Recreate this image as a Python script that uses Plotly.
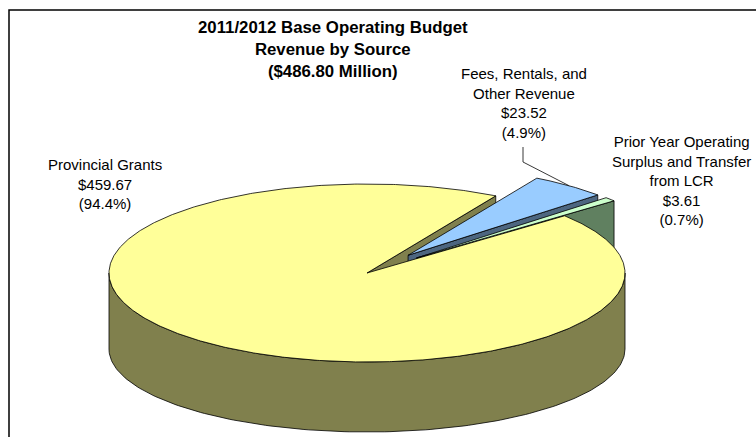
import numpy as np
import plotly.graph_objects as go

# Revenue by source, $ millions
sources = [
    "Provincial Grants",
    "Fees, Rentals, and<br>Other Revenue",
    "Prior Year Operating<br>Surplus and Transfer<br>from LCR",
]
amounts = [459.67, 23.52, 3.61]
share_labels = ["94.4%", "4.9%", "0.7%"]
pulled = [0.0, 0.255, 0.255]          # explode distance, fraction of radius

top_colors = ["#FFFF99", "#99CCFF", "#CCFFCC"]
side_colors = ["#80804D", "#4D6680", "#608060"]

W, H = 756, 437
CX, CY = 367, 273          # centre of the top face (px)
RX, RY = 258, 89           # radii of the top face
BOT_CY, BOT_RY = 349, 83   # centre / vertical radius of the bottom rim
FIRST_ANGLE = 50           # first slice starts this many degrees clockwise from 12 o'clock
EDGE = dict(color="black", width=0.8)


def top_xy(u, v):
    return CX + RX * np.asarray(u), CY - RY * np.asarray(v)


def bot_xy(u, v):
    return CX + RX * np.asarray(u), BOT_CY - BOT_RY * np.asarray(v)


total = sum(amounts)
slices = []
ang = 90 - FIRST_ANGLE
for i, amt in enumerate(amounts):
    sweep = 360 * amt / total
    a1, a0 = ang, ang - sweep          # slices run clockwise
    ang = a0
    mid = np.radians((a0 + a1) / 2)
    slices.append(dict(a0=a0, a1=a1, mid=mid,
                       ox=pulled[i] * np.cos(mid), oy=pulled[i] * np.sin(mid)))


def front_spans(a0, a1):
    spans = []
    for k in range(-2, 3):
        lo, hi = max(a0, -180 + 360 * k), min(a1, 360 * k)
        if hi > lo:
            spans.append((lo, hi))
    return spans


def poly(x, y, color):
    x = list(x) + [x[0]]
    y = list(y) + [y[0]]
    return go.Scatter(x=x, y=y, mode="lines", fill="toself", fillcolor=color,
                      line=EDGE, hoverinfo="skip", showlegend=False)


fig = go.Figure()

# outer curved walls facing the viewer
for i, s in enumerate(slices):
    for lo, hi in front_spans(s["a0"], s["a1"]):
        t = np.radians(np.linspace(lo, hi, 160))
        u, v = s["ox"] + np.cos(t), s["oy"] + np.sin(t)
        xt, yt = top_xy(u, v)
        xb, yb = bot_xy(u, v)
        fig.add_trace(poly(np.r_[xt, xb[::-1]], np.r_[yt, yb[::-1]], side_colors[i]))


def face(s, a_deg, color):
    a = np.radians(a_deg)
    u = [s["ox"], s["ox"] + np.cos(a)]
    v = [s["oy"], s["oy"] + np.sin(a)]
    xt, yt = top_xy(u, v)
    xb, yb = bot_xy(u, v)
    return poly([xt[0], xt[1], xb[1], xb[0]], [yt[0], yt[1], yb[1], yb[0]], color)


# radial cut faces: fixed slices first, pulled-out slices after
order = sorted(range(len(slices)), key=lambda k: (pulled[k] > 0, k))
for i in order:
    s = slices[i]
    if np.cos(np.radians(s["a0"])) > 0:
        fig.add_trace(face(s, s["a0"], side_colors[i]))
    if np.cos(np.radians(s["a1"])) < 0:
        fig.add_trace(face(s, s["a1"], side_colors[i]))

# top faces
for i in order:
    s = slices[i]
    t = np.radians(np.linspace(s["a0"], s["a1"], max(8, int(s["a1"] - s["a0"]) * 2)))
    u = np.r_[s["ox"], s["ox"] + np.cos(t)]
    v = np.r_[s["oy"], s["oy"] + np.sin(t)]
    x, y = top_xy(u, v)
    fig.add_trace(poly(x, y, top_colors[i]))

# leader line for the fees label
fs = slices[1]
lx, ly = top_xy(fs["ox"] + np.cos(fs["mid"]), fs["oy"] + np.sin(fs["mid"]))
fig.add_trace(go.Scatter(x=[523, 523, float(lx)], y=[147, 162, float(ly)], mode="lines",
                         line=dict(color="#222222", width=0.9),
                         hoverinfo="skip", showlegend=False))

label_pos = [(105, 184), (524, 103), (681, 180)]
FONT = "Arial, Liberation Sans, sans-serif"
annotations = [
    dict(x=333, y=49, xref="x", yref="y", showarrow=False,
         text="<b>2011/2012 Base Operating Budget<br>Revenue by Source<br>"
              f"(${total:.2f} Million)</b>",
         font=dict(family=FONT, size=16.8, color="black"), align="center")
]
for name, amt, pct, (px, py) in zip(sources, amounts, share_labels, label_pos):
    annotations.append(dict(
        x=px, y=py, xref="x", yref="y", showarrow=False, align="center",
        text=f"{name}<br>${amt:.2f}<br>({pct})",
        font=dict(family=FONT, size=15, color="black")))

fig.update_layout(
    width=W, height=H, margin=dict(l=0, r=0, t=0, b=0),
    paper_bgcolor="white", plot_bgcolor="white",
    xaxis=dict(range=[0, W], visible=False, fixedrange=True),
    yaxis=dict(range=[H, 0], visible=False, fixedrange=True),
    annotations=annotations,
    shapes=[dict(type="rect", xref="x", yref="y", x0=9, y0=10, x1=W + 10, y1=H + 10,
                 line=dict(color="black", width=1.5), layer="above")],
)

fig.write_html("out.html")
